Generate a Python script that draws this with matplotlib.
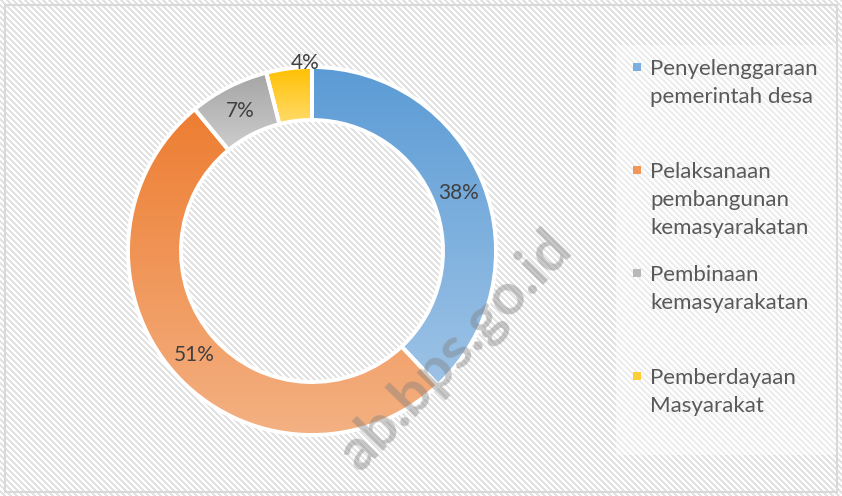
import numpy as np
import matplotlib
matplotlib.use("Agg")
import matplotlib.pyplot as plt
from matplotlib.colors import LinearSegmentedColormap, to_rgb
from matplotlib.patches import Rectangle

# ---------------- data ----------------
categories = ["Penyelenggaraan\npemerintah desa",
              "Pelaksanaan\npembangunan\nkemasyarakatan",
              "Pembinaan\nkemasyarakatan",
              "Pemberdayaan\nMasyarakat"]
values = [38, 51, 7, 4]
pct_labels = [f"{v}%" for v in values]
top_colors = ["#5B9BD5", "#ED7D31", "#A5A5A5", "#FFC000"]
bottom_colors = ["#9DC3E6", "#F4B183", "#CDCDCD", "#FFDB6B"]
watermark = "ab.bps.go.id"

# label placement style (radius fraction, angular nudge in degrees)
label_r = [0.856, 0.856, 0.856, 1.02]
label_dth = [0, 0, 0, -5]

FONT = ["Lato", "DejaVu Sans"]
W, H = 842, 496
fig = plt.figure(figsize=(W / 100, H / 100), dpi=100)

# ---------------- background (pixel coords, y down) ----------------
bg = fig.add_axes([0, 0, 1, 1])
bg.set_axis_off()
yy, xx = np.mgrid[0:H, 0:W]
stripes = ((xx - yy) % 6) < 3
img = np.where(stripes[..., None], np.array(to_rgb("#E2E2E2")), np.ones(3))
bg.imshow(img, extent=(0, W, H, 0), interpolation="nearest", aspect="auto")
bg.set_xlim(0, W)
bg.set_ylim(H, 0)
# legend panel (faint white overlay)
bg.add_patch(Rectangle((616, 45), 224, 410, facecolor="white", alpha=0.4,
                       edgecolor="none"))
# chart border
bg.add_patch(Rectangle((5, 5), W - 10, H - 9, facecolor="none",
                       edgecolor="#D9D9D9", linewidth=1.5))

# ---------------- donut ----------------
cx, cy, R = 312, 251, 184
ax = fig.add_axes([(cx - R) / W, (H - cy - R) / H, 2 * R / W, 2 * R / H])
ax.set_axis_off()
wedges, _ = ax.pie(values, startangle=90, counterclock=False, radius=1,
                   wedgeprops=dict(width=0.288, edgecolor="white",
                                   linewidth=2.8, facecolor="none"))
grad = np.linspace(0, 1, 256)[:, None]
for w, c0, c1 in zip(wedges, top_colors, bottom_colors):
    w.set_zorder(3)
    ext = w.get_path().get_extents()
    cmap = LinearSegmentedColormap.from_list("g", [c0, c1])
    im = ax.imshow(grad, cmap=cmap, extent=(ext.x0, ext.x1, ext.y0, ext.y1),
                   origin="upper", aspect="auto", zorder=2,
                   interpolation="bilinear")
    im.set_clip_path(w)
ax.set_xlim(-1, 1)
ax.set_ylim(-1, 1)

cum = 0
for v, lab, rr, dth in zip(values, pct_labels, label_r, label_dth):
    th = np.deg2rad(90 - (cum + v / 2) * 3.6 + dth)
    cum += v
    ax.text(rr * np.cos(th), rr * np.sin(th), lab, ha="center", va="center",
            fontsize=15, color="#404040", family=FONT, zorder=5)

# ---------------- legend ----------------
first_base = 75
slot = 103
line_h = 28
for i, (cat, c0, c1) in enumerate(zip(categories, top_colors, bottom_colors)):
    base = first_base + i * slot
    mid = tuple((np.array(to_rgb(c0)) + np.array(to_rgb(c1))) / 2)
    bg.add_patch(Rectangle((633, base - 12), 8, 8, facecolor=mid,
                           edgecolor="none"))
    for j, line in enumerate(cat.split("\n")):
        bg.text(650, base + j * line_h, line, ha="left", va="baseline",
                fontsize=16, color="#595959", family=FONT)

# ---------------- watermark ----------------
fig.add_artist(plt.Text(563 / W, 1 - 240 / H, watermark, rotation=46,
                        rotation_mode="anchor", ha="right", va="center",
                        fontsize=42, fontweight="bold", color="#7F7F7F",
                        alpha=0.42, family=FONT, zorder=10,
                        transform=fig.transFigure))

fig.savefig("out.png", dpi=100)
